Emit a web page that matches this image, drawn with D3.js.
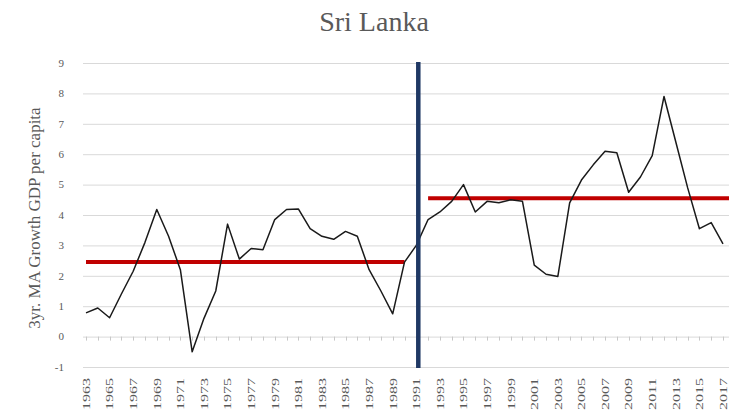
<!DOCTYPE html>
<html>
<head>
<meta charset="utf-8">
<script src="https://cdn.jsdelivr.net/npm/d3@7"></script>
<style>
  body { margin: 0; background: #fff; }
  #container { width: 729px; height: 417px; }
  text { font-family: 'Liberation Serif', 'Times New Roman', serif; fill: #595959; }
</style>
</head>
<body>
<div id="container"></div>
<script>

var width = 729;
var height = 417;

// categories
var years = [1963, 1964, 1965, 1966, 1967, 1968, 1969, 1970, 1971, 1972,
	1973, 1974, 1975, 1976, 1977, 1978, 1979, 1980, 1981, 1982,
	1983, 1984, 1985, 1986, 1987, 1988, 1989, 1990, 1991, 1992,
	1993, 1994, 1995, 1996, 1997, 1998, 1999, 2000, 2001, 2002,
	2003, 2004, 2005, 2006, 2007, 2008, 2009, 2010, 2011, 2012,
	2013, 2014, 2015, 2016, 2017];

// 3yr moving average growth of GDP per capita
var growth = [0.78, 0.94, 0.62, 1.4, 2.15, 3.1, 4.18, 3.3, 2.2, -0.5,
	0.6, 1.5, 3.7, 2.55, 2.9, 2.86, 3.85, 4.18, 4.2, 3.55,
	3.3, 3.2, 3.46, 3.3, 2.2, 1.5, 0.75, 2.45, 3.0, 3.85,
	4.1, 4.45, 5.0, 4.1, 4.45, 4.4, 4.5, 4.45, 2.35, 2.05,
	1.98, 4.4, 5.15, 5.65, 6.1, 6.05, 4.75, 5.25, 5.95, 7.9,
	6.4, 4.9, 3.55, 3.75, 3.05];

// period averages
var meanFrom = [1963, 1992];
var meanTo = [1990, 2017];
var meanValue = [2.45, 4.55];

var breakYear = 1991;

var yTicks = [-1, 0, 1, 2, 3, 4, 5, 6, 7, 8, 9];
var xTickLabels = years.filter(function(y){ return y % 2 == 1; });

var svg = d3.select('#container')
	.append('svg')
	.attr('width', width)
	.attr('height', height);

var x = d3.scaleLinear()
	.domain([1963, 2017])
	.range([86, 723]);

var y = d3.scaleLinear()
	.domain([-1, 9])
	.range([367, 63]);

// gridlines
svg.selectAll('.grid')
	.data(yTicks)
	.enter()
	.append('line')
	.attr('class', 'grid')
	.attr('x1', 83)
	.attr('x2', width)
	.attr('y1', function(d){ return y(d) + 0.5; })
	.attr('y2', function(d){ return y(d) + 0.5; })
	.style('stroke', '#d9d9d9')
	.style('stroke-width', 1);

// small ticks on the zero line
svg.selectAll('.tick-mark')
	.data(years)
	.enter()
	.append('line')
	.attr('class', 'tick-mark')
	.attr('x1', function(d){ return Math.round(x(d)) + 0.5; })
	.attr('x2', function(d){ return Math.round(x(d)) + 0.5; })
	.attr('y1', y(0))
	.attr('y2', y(0) + 4)
	.style('stroke', '#c8c8c8');

svg.selectAll('.y-label')
	.data(yTicks)
	.enter()
	.append('text')
	.attr('class', 'y-label')
	.attr('x', 64)
	.attr('y', function(d){ return y(d); })
	.attr('dy', '0.35em')
	.attr('text-anchor', 'end')
	.style('font-size', '11px')
	.text(function(d){ return d; });

svg.selectAll('.x-label')
	.data(xTickLabels)
	.enter()
	.append('text')
	.attr('class', 'x-label')
	.attr('transform', function(d){ return 'translate(' + x(d) + ',378) rotate(-90)'; })
	.attr('dy', '0.35em')
	.attr('text-anchor', 'end')
	.style('font-size', '11px')
	.attr('textLength', 32)
	.attr('lengthAdjust', 'spacingAndGlyphs')
	.text(function(d){ return d; });

svg.append('text')
	.attr('transform', 'translate(34,218) rotate(-90)')
	.attr('text-anchor', 'middle')
	.attr('dy', '0.35em')
	.style('font-size', '17px')
	.text('3yr. MA Growth GDP per capita');

svg.append('text')
	.attr('x', 374)
	.attr('y', 31)
	.attr('text-anchor', 'middle')
	.style('font-size', '28px')
	.text('Sri Lanka');

// mean lines
var means = meanValue.map(function(v, i){ return {from: meanFrom[i], to: meanTo[i], value: v}; });

svg.selectAll('.mean')
	.data(means)
	.enter()
	.append('line')
	.attr('class', 'mean')
	.attr('x1', function(d){ return x(d.from); })
	.attr('x2', function(d){ return d.to == 2017 ? width : x(d.to); })
	.attr('y1', function(d){ return y(d.value); })
	.attr('y2', function(d){ return y(d.value); })
	.style('stroke', '#c00000')
	.style('stroke-width', 4);

// growth line
var line = d3.line()
	.x(function(d, i){ return x(years[i]); })
	.y(function(d){ return y(d); });

svg.append('path')
	.datum(growth)
	.attr('d', line)
	.style('fill', 'none')
	.style('stroke', '#1a1a1a')
	.style('stroke-width', 1.5)
	.style('stroke-linejoin', 'round');

// structural break
svg.append('line')
	.attr('x1', x(breakYear) + 2)
	.attr('x2', x(breakYear) + 2)
	.attr('y1', y(9) - 1)
	.attr('y2', y(-1) + 1)
	.style('stroke', '#1f3864')
	.style('stroke-width', 4.5);

</script>
</body>
</html>
